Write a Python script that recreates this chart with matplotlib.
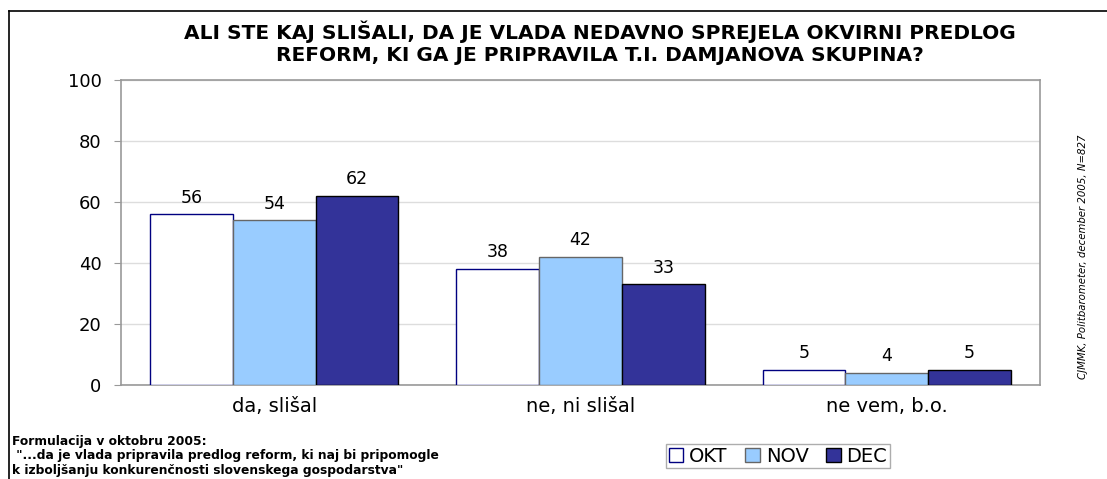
import matplotlib.pyplot as plt
import numpy as np
from matplotlib.lines import Line2D

# the reference looks horizontally stretched, DejaVu Sans is wider than Arial
plt.rcParams['font.family'] = ['DejaVu Sans']

categories = ['da, slišal', 'ne, ni slišal', 'ne vem, b.o.']
series = ['OKT', 'NOV', 'DEC']
okt = [56, 38, 5]
nov = [54, 42, 4]
dec = [62, 33, 5]
yticks = [0, 20, 40, 60, 80, 100]

title = ('ALI STE KAJ SLIŠALI, DA JE VLADA NEDAVNO SPREJELA OKVIRNI PREDLOG\n'
         'REFORM, KI GA JE PRIPRAVILA T.I. DAMJANOVA SKUPINA?')
note = ('Formulacija v oktobru 2005:\n'
        ' "...da je vlada pripravila predlog reform, ki naj bi pripomogle\n'
        'k izboljšanju konkurenčnosti slovenskega gospodarstva"')
source = 'CJMMK, Politbarometer, december 2005, N=827'

W, H = 1107, 479
fig = plt.figure(figsize=(W / 100, H / 100), dpi=100)
fig.patch.set_facecolor('white')

# outer frame (left and top only, the picture is cropped)
fig.add_artist(Line2D([9 / W, 9 / W], [0, 1 - 11 / H], color='black', lw=1.2))
fig.add_artist(Line2D([9 / W, 1], [1 - 11 / H, 1 - 11 / H], color='black', lw=1.2))

ax = fig.add_axes([121 / W, 1 - 385 / H, (1040 - 121) / W, (385 - 80) / H])

x = np.arange(len(categories))
w = 0.27
faces = ['white', '#99CCFF', '#333399']
edges = ['#000080', '#666666', 'black']
for i, (vals, fc, ec) in enumerate(zip([okt, nov, dec], faces, edges)):
    bars = ax.bar(x + (i - 1) * w, vals, w, color=fc, edgecolor=ec,
                  linewidth=1.0, zorder=3, label=series[i])
    for b, v in zip(bars, vals):
        ax.text(b.get_x() + b.get_width() / 2, v + 2.5, str(v),
                ha='center', va='bottom', fontsize=12.5)

ax.set_xlim(-0.5, 2.5)
ax.set_ylim(0, 100)
ax.set_yticks(yticks)
ax.set_xticks(x)
ax.set_xticklabels(categories, fontsize=14)
ax.tick_params(axis='y', labelsize=13, length=5, color='#999999', pad=9)
ax.tick_params(axis='x', length=0, pad=9)
ax.yaxis.grid(True, color='#DDDDDD', lw=1, zorder=0)
for s in ax.spines.values():
    s.set_color('#999999')
    s.set_linewidth(1.2)

fig.text(600 / W, 1 - 43 / H, title, ha='center', va='center',
         fontsize=14.5, fontweight='bold', linespacing=1.2)
fig.text(12 / W, 1 - 456 / H, note, ha='left', va='center',
         fontsize=8.8, fontweight='bold', linespacing=1.15)
fig.text(1083 / W, 1 - 257 / H, source, ha='center', va='center',
         rotation=90, fontsize=7.3, style='italic')

leg = fig.legend(loc='center', bbox_to_anchor=(778 / W, 1 - 456 / H),
                 ncol=3, fontsize=14, frameon=True, fancybox=False,
                 handlelength=0.75, handleheight=0.75, handletextpad=0.3,
                 columnspacing=0.9, borderpad=0.15, borderaxespad=0)
leg.get_frame().set_edgecolor('#999999')
leg.get_frame().set_linewidth(1)

fig.savefig('out.png', dpi=100)
